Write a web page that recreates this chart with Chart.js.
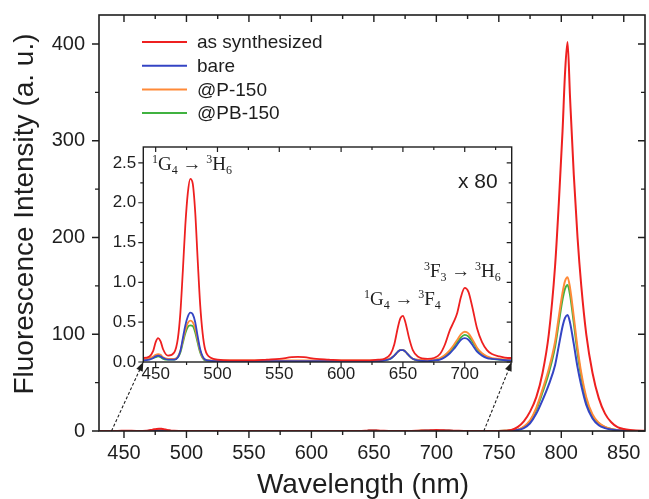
<!DOCTYPE html>
<html><head><meta charset="utf-8">
<script src="https://cdn.jsdelivr.net/npm/chart.js@4.4.0/dist/chart.umd.min.js"></script>
<style>
html,body{margin:0;padding:0;background:#fff;}
#wrap{position:relative;width:649px;height:499px;overflow:hidden;}
#main{position:absolute;left:0;top:0;}
#inset{position:absolute;left:100px;top:135px;}
</style></head><body>
<div id="wrap"><canvas id="main" width="649" height="499"></canvas><canvas id="inset" width="420" height="310"></canvas></div>
<script>
// ---------- data ----------
const wavelengths = [
 430,435,440,445,448, 450,452,454,456,460, 465,468,470,472,474, 476,478,480,482,484,
 486,488,490,495,500, 510,520,530,540,550, 560,565,570,580,590, 600,610,620,630,635,
 640,643,646,648,650, 652,655,658,662,670, 675,680,684,688,691, 694,697,700,703,706,
 710,714,718,722,728, 735,740,750,755,760, 765,770,775,780,785, 790,795,798,801,803,
 805,807,810,813,816, 820,825,830,835,840, 845,850,855,860,867];
const asSynthesized = [
 0.04,0.05,0.05,0.07,0.14, 0.25,0.30,0.26,0.16,0.08, 0.12,0.30,0.62,1.15,1.72, 2.12,2.30,2.24,1.88,1.28,
 0.72,0.36,0.16,0.05,0.03, 0.02,0.02,0.02,0.03,0.04, 0.06,0.065,0.06,0.04,0.03, 0.02,0.02,0.02,0.03,0.04,
 0.10,0.22,0.44,0.55,0.58, 0.50,0.30,0.15,0.07,0.04, 0.05,0.10,0.22,0.40,0.50, 0.62,0.82,0.93,0.88,0.70,
 0.42,0.25,0.15,0.10,0.07, 0.05,0.05,0.1,0.3,1, 4,10,20,35,60, 100,170,235,310,370,
 402,345,265,200,150, 100,60,34,18,9, 4,2,1,0.5,0.2];
const bare = [
 0.02,0.02,0.02,0.03,0.05, 0.07,0.08,0.07,0.05,0.03, 0.03,0.06,0.14,0.30,0.46, 0.57,0.62,0.60,0.50,0.32,
 0.16,0.07,0.03,0.015,0.01, 0.01,0.01,0.01,0.01,0.01, 0.01,0.01,0.01,0.01,0.01, 0.01,0.01,0.01,0.01,0.02,
 0.04,0.08,0.13,0.15,0.15, 0.13,0.08,0.04,0.02,0.01, 0.02,0.03,0.06,0.11,0.16, 0.22,0.28,0.30,0.28,0.22,
 0.13,0.08,0.05,0.04,0.03, 0.02,0.02,0.03,0.1,0.3, 1,3,8,18,32, 48,68,88,108,117,
 120,112,90,66,47, 27,13,6,3,1.5, 0.7,0.3,0.1,0.05,0.02];
const p150 = [
 0.03,0.03,0.03,0.05,0.07, 0.09,0.10,0.09,0.06,0.04, 0.04,0.07,0.14,0.27,0.40, 0.49,0.52,0.50,0.42,0.28,
 0.14,0.06,0.03,0.02,0.02, 0.02,0.02,0.02,0.02,0.02, 0.02,0.02,0.02,0.02,0.02, 0.02,0.02,0.02,0.02,0.03,
 0.05,0.08,0.13,0.15,0.15, 0.13,0.08,0.04,0.03,0.02, 0.03,0.05,0.09,0.15,0.21, 0.28,0.35,0.38,0.36,0.29,
 0.18,0.11,0.07,0.05,0.04, 0.03,0.03,0.05,0.15,0.4, 1.3,4.5,11,24,43, 64,92,118,143,155,
 159,148,118,86,60, 35,17,8.5,4.2,2, 1,0.4,0.15,0.06,0.02];
const pb150 = [
 0.02,0.02,0.02,0.04,0.05, 0.06,0.07,0.06,0.04,0.03, 0.03,0.06,0.12,0.24,0.36, 0.44,0.46,0.45,0.37,0.24,
 0.12,0.05,0.02,0.015,0.01, 0.01,0.01,0.01,0.01,0.01, 0.01,0.01,0.01,0.01,0.01, 0.01,0.01,0.01,0.01,0.02,
 0.04,0.08,0.13,0.15,0.15, 0.13,0.08,0.04,0.02,0.01, 0.02,0.04,0.08,0.13,0.19, 0.25,0.31,0.34,0.32,0.26,
 0.16,0.10,0.06,0.04,0.03, 0.02,0.02,0.04,0.13,0.35, 1.2,4,10,22,40, 60,87,112,136,147,
 151,141,112,81,56, 32,15,8,4,2, 1,0.4,0.15,0.06,0.02];
const seriesLabels = ['as synthesized', 'bare', '@P-150', '@PB-150'];
const seriesColors = ['rgb(238,32,32)', 'rgb(52,68,196)', 'rgb(255,138,56)', 'rgb(64,178,64)'];
const mainXTicks = [450, 500, 550, 600, 650, 700, 750, 800, 850];
const mainXMinor = [475, 525, 575, 625, 675, 725, 775, 825];
const mainYTicks = [0, 100, 200, 300, 400];
const mainYMinor = [50, 150, 250, 350];
const insetXTicks = [450, 500, 550, 600, 650, 700];
const insetXMinor = [475, 525, 575, 625, 675, 725];
const insetYTicks = [0, 0.5, 1.0, 1.5, 2.0, 2.5];
const insetYMinor = [0.25, 0.75, 1.25, 1.75, 2.25];
const xTitle = 'Wavelength (nm)';
const yTitle = 'Fluorescence Intensity (a. u.)';

const SANS = '"Liberation Sans", Arial, sans-serif';
const SERIF = '"Liberation Serif", "Times New Roman", serif';
const INK = '#1e1e1e';

function makeDatasets(lw) {
  const all = [asSynthesized, bare, p150, pb150];
  return all.map((arr, i) => ({
    label: seriesLabels[i],
    data: wavelengths.map((w, k) => ({x: w, y: arr[k]})),
    borderColor: seriesColors[i],
    backgroundColor: seriesColors[i],
    borderWidth: lw,
    pointRadius: 0,
    cubicInterpolationMode: 'monotone',
    fill: false
  }));
}

function noPadX(s) { s.paddingLeft = 0; s.paddingRight = 0; }
function noPadY(s) { s.paddingTop = 0; s.paddingBottom = 0; }

function frameAndTicks(chart, o) {
  const {ctx, chartArea: a, scales: {x, y}} = chart;
  ctx.save();
  ctx.strokeStyle = INK;
  ctx.lineWidth = o.frameLw;
  ctx.strokeRect(a.left, a.top, a.right - a.left, a.bottom - a.top);
  ctx.lineWidth = o.tickLw;
  ctx.beginPath();
  const xs = o.xMajor.map(v => [v, o.major]).concat(o.xMinor.map(v => [v, o.minor]));
  for (const [v, L] of xs) {
    const px = x.getPixelForValue(v);
    ctx.moveTo(px, a.bottom); ctx.lineTo(px, a.bottom + L);
    ctx.moveTo(px, a.top); ctx.lineTo(px, a.top + L);
  }
  const ys = o.yMajor.map(v => [v, o.major]).concat(o.yMinor.map(v => [v, o.minor]));
  for (const [v, L] of ys) {
    const py = y.getPixelForValue(v);
    ctx.moveTo(a.left, py); ctx.lineTo(a.left - L, py);
    ctx.moveTo(a.right, py); ctx.lineTo(a.right - L, py);
  }
  ctx.stroke();
  ctx.restore();
}

function richText(ctx, x, y, parts, size) {
  let cx = x;
  ctx.textBaseline = 'alphabetic';
  ctx.textAlign = 'left';
  for (const [t, k] of parts) {
    const fs = k === 'n' ? size : Math.round(size * 0.62);
    ctx.font = fs + 'px ' + SERIF;
    const dy = k === 'sup' ? -size * 0.36 : (k === 'sub' ? size * 0.2 : 0);
    ctx.fillText(t, cx, y + dy);
    cx += ctx.measureText(t).width;
  }
}

// ---------- main chart ----------
const mainPlugin = {
  id: 'mainDeco',
  afterDraw(chart) {
    frameAndTicks(chart, {frameLw: 1.6, tickLw: 1.4, major: 7, minor: 4,
      xMajor: mainXTicks, xMinor: mainXMinor, yMajor: mainYTicks, yMinor: mainYMinor});
    const ctx = chart.ctx;
    ctx.save();
    ctx.fillStyle = INK;
    // axis titles
    ctx.font = '28px ' + SANS;
    ctx.textAlign = 'center';
    ctx.textBaseline = 'alphabetic';
    ctx.fillText(xTitle, 363, 493);
    ctx.translate(33, 214);
    ctx.rotate(-Math.PI / 2);
    ctx.fillText(yTitle, 0, 0);
    ctx.setTransform(1, 0, 0, 1, 0, 0);
    // legend
    ctx.font = '19px ' + SANS;
    ctx.textAlign = 'left';
    ctx.textBaseline = 'middle';
    chart.data.datasets.forEach((ds, i) => {
      const yy = 42 + i * 23.7;
      ctx.strokeStyle = ds.borderColor;
      ctx.lineWidth = 2;
      ctx.beginPath(); ctx.moveTo(142, yy); ctx.lineTo(187, yy); ctx.stroke();
      ctx.fillText(ds.label, 197, yy + 1);
    });
    ctx.restore();
  }
};

const mainChart = new Chart(document.getElementById('main'), {
  type: 'line',
  data: {datasets: makeDatasets(2)},
  plugins: [mainPlugin],
  options: {
    responsive: false, animation: false, devicePixelRatio: 1,
    layout: {padding: {left: 0, right: 4, top: 15, bottom: 0}},
    plugins: {legend: {display: false}, tooltip: {enabled: false}},
    scales: {
      x: {
        type: 'linear', min: 430, max: 867,
        afterFit(s) { s.height = 68; noPadX(s); },
        afterBuildTicks(s) { s.ticks = mainXTicks.map(v => ({value: v})); },
        ticks: {font: {size: 20, family: SANS}, color: INK, padding: 10, maxRotation: 0, autoSkip: false},
        grid: {display: false, drawTicks: false},
        border: {display: false}
      },
      y: {
        type: 'linear', min: 0, max: 430,
        afterFit(s) { s.width = 99; noPadY(s); },
        afterBuildTicks(s) { s.ticks = mainYTicks.map(v => ({value: v})); },
        ticks: {font: {size: 20, family: SANS}, color: INK, padding: 14},
        grid: {display: false, drawTicks: false},
        border: {display: false}
      }
    }
  }
});

// ---------- inset chart ----------
const INSET_OFF = {x: 100, y: 135};
function arrow(ctx, x0, y0, x1, y1) {
  ctx.save();
  ctx.strokeStyle = INK; ctx.fillStyle = INK; ctx.lineWidth = 1.1;
  ctx.setLineDash([3, 2]);
  ctx.beginPath(); ctx.moveTo(x0, y0); ctx.lineTo(x1, y1); ctx.stroke();
  ctx.setLineDash([]);
  const ang = Math.atan2(y1 - y0, x1 - x0);
  const L = 9, W = 3.5;
  ctx.beginPath();
  ctx.moveTo(x1, y1);
  ctx.lineTo(x1 - L * Math.cos(ang) + W * Math.sin(ang), y1 - L * Math.sin(ang) - W * Math.cos(ang));
  ctx.lineTo(x1 - L * Math.cos(ang) - W * Math.sin(ang), y1 - L * Math.sin(ang) + W * Math.cos(ang));
  ctx.closePath(); ctx.fill();
  ctx.restore();
}
const insetPlugin = {
  id: 'insetDeco',
  afterDraw(chart) {
    frameAndTicks(chart, {frameLw: 1.4, tickLw: 1.2, major: 5, minor: 3,
      xMajor: insetXTicks, xMinor: insetXMinor, yMajor: insetYTicks, yMinor: insetYMinor});
    const ctx = chart.ctx;
    const a = chart.chartArea;
    ctx.save();
    ctx.fillStyle = INK;
    const ox = INSET_OFF.x, oy = INSET_OFF.y;
    richText(ctx, 152 - ox, 170 - oy, [['1', 'sup'], ['G', 'n'], ['4', 'sub'], [' \u2192 ', 'n'], ['3', 'sup'], ['H', 'n'], ['6', 'sub']], 19);
    richText(ctx, 424 - ox, 277 - oy, [['3', 'sup'], ['F', 'n'], ['3', 'sub'], [' \u2192 ', 'n'], ['3', 'sup'], ['H', 'n'], ['6', 'sub']], 19);
    richText(ctx, 364 - ox, 305 - oy, [['1', 'sup'], ['G', 'n'], ['4', 'sub'], [' \u2192 ', 'n'], ['3', 'sup'], ['F', 'n'], ['4', 'sub']], 19);
    ctx.font = '21px ' + SANS;
    ctx.textBaseline = 'alphabetic';
    ctx.fillText('x 80', 458 - ox, 188 - oy);
    ctx.restore();
    // zoom arrows from the main axis to the inset corners
    const mx = mainChart.scales.x, my = mainChart.scales.y;
    const by = my.getPixelForValue(0) - oy;
    arrow(ctx, mx.getPixelForValue(chart.scales.x.min) - ox, by, a.left, a.bottom);
    arrow(ctx, mx.getPixelForValue(chart.scales.x.max) - ox, by, a.right, a.bottom);
  }
};

new Chart(document.getElementById('inset'), {
  type: 'line',
  data: {datasets: makeDatasets(1.8)},
  plugins: [insetPlugin],
  options: {
    responsive: false, animation: false, devicePixelRatio: 1,
    layout: {padding: {left: 0, right: 8.3, top: 12, bottom: 0}},
    plugins: {legend: {display: false}, tooltip: {enabled: false}},
    scales: {
      x: {
        type: 'linear', min: 440, max: 738,
        afterFit(s) { s.height = 83; noPadX(s); },
        afterBuildTicks(s) { s.ticks = insetXTicks.map(v => ({value: v})); },
        ticks: {font: {size: 17, family: SANS}, color: INK, padding: 2, maxRotation: 0, autoSkip: false},
        grid: {display: false, drawTicks: false},
        border: {display: false}
      },
      y: {
        type: 'linear', min: 0, max: 2.7,
        afterFit(s) { s.width = 43.3; noPadY(s); },
        afterBuildTicks(s) { s.ticks = insetYTicks.map(v => ({value: v})); },
        ticks: {font: {size: 17, family: SANS}, color: INK, padding: 7, callback: v => Number(v).toFixed(1)},
        grid: {display: false, drawTicks: false},
        border: {display: false}
      }
    }
  }
});
</script>
</body></html>
